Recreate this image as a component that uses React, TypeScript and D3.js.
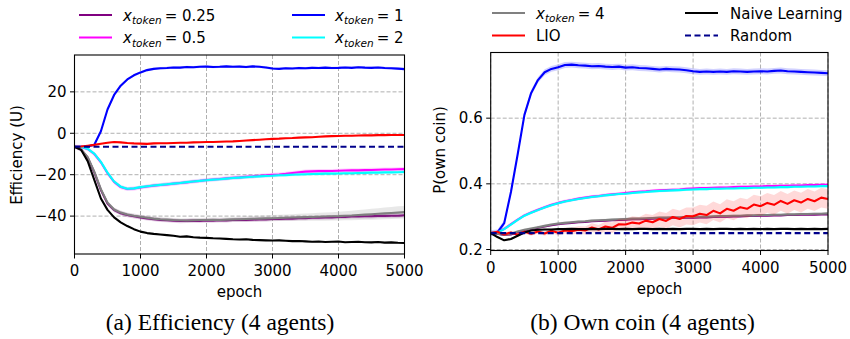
import * as d3 from "d3";

// epochs shared by every curve
const epochs = [
  0, 100, 200, 300, 400, 500, 600, 700, 800, 900,
  1000, 1100, 1200, 1300, 1400, 1500, 1600, 1700, 1800, 1900,
  2000, 2100, 2200, 2300, 2400, 2500, 2600, 2700, 2800, 2900,
  3000, 3100, 3200, 3300, 3400, 3500, 3600, 3700, 3800, 3900,
  4000, 4100, 4200, 4300, 4400, 4500, 4600, 4700, 4800, 4900,
  5000,
];

// (a) Efficiency
const effTok025 = [
  -6.5, -7.9, -11.8, -18.9, -27.4, -33.9, -37.1, -38.6, -39.5, -40.1,
  -40.6, -41.1, -41.5, -41.8, -42.0, -42.2, -42.4, -42.3, -42.2, -42.3,
  -42.1, -42.2, -42.0, -42.1, -41.9, -41.8, -41.8, -41.7, -41.6, -41.6,
  -41.4, -41.4, -41.2, -41.2, -41.0, -41.0, -40.8, -40.8, -40.6, -40.6,
  -40.4, -40.4, -40.2, -40.2, -40.1, -40.1, -39.9, -39.9, -39.8, -39.8,
  -39.6,
];
const effTok05 = [
  -6.5, -6.6, -7.6, -10.0, -14.0, -19.3, -23.5, -26.0, -26.9, -26.7,
  -26.2, -25.7, -25.3, -25.0, -24.7, -24.3, -24.0, -23.7, -23.3, -23.0,
  -22.6, -22.3, -22.1, -21.8, -21.5, -21.3, -21.0, -20.8, -20.5, -20.3,
  -20.1, -19.9, -19.6, -19.2, -18.8, -18.5, -18.4, -18.3, -18.3, -18.2,
  -18.1, -18.0, -17.9, -17.9, -17.8, -17.7, -17.6, -17.5, -17.5, -17.4,
  -17.3,
];
const effTok1 = [
  -6.5, -6.5, -6.4, -5.5, 1.0, 11.5, 18.5, 23.0, 26.0, 28.0,
  29.4, 30.5, 31.1, 31.4, 31.5, 31.8, 31.7, 32.0, 31.9, 32.1,
  32.2, 32.0, 32.1, 32.3, 32.1, 32.2, 32.0, 32.3, 32.1, 31.8,
  31.3, 31.1, 31.4, 31.3, 31.5, 31.4, 31.6, 31.5, 31.7, 31.5,
  31.6, 31.8, 31.6, 31.9, 31.7, 31.6, 31.8, 31.5, 31.4, 31.2,
  31.0,
];
const effTok2 = [
  -6.5, -6.6, -7.5, -9.8, -13.8, -19.0, -23.3, -25.8, -26.8, -26.6,
  -26.0, -25.6, -25.2, -24.9, -24.6, -24.3, -24.0, -23.6, -23.3, -23.0,
  -22.7, -22.4, -22.2, -21.9, -21.6, -21.4, -21.2, -21.0, -20.8, -20.6,
  -20.5, -20.3, -20.2, -20.0, -19.9, -19.8, -19.7, -19.6, -19.5, -19.5,
  -19.4, -19.3, -19.3, -19.2, -19.1, -19.0, -19.0, -18.9, -18.9, -18.8,
  -18.7,
];
const effTok4 = [
  -6.5, -7.8, -11.5, -18.5, -27.0, -33.5, -36.8, -38.3, -39.2, -39.8,
  -40.3, -40.8, -41.2, -41.5, -41.7, -41.9, -42.0, -42.1, -42.0, -41.9,
  -41.9, -41.8, -41.9, -41.7, -41.6, -41.5, -41.4, -41.3, -41.2, -41.1,
  -41.0, -40.9, -40.8, -40.7, -40.6, -40.5, -40.4, -40.3, -40.2, -40.1,
  -40.0, -39.8, -39.7, -39.5, -39.3, -39.1, -38.9, -38.7, -38.5, -38.3,
  -38.1,
];
const effTok4Spread = [
  0.2, 0.3, 0.5, 0.8, 1.0, 1.0, 1.0, 1.0, 1.0, 1.0,
  1.0, 1.0, 1.0, 1.0, 1.0, 1.0, 1.0, 1.0, 1.0, 1.0,
  1.1, 1.1, 1.1, 1.2, 1.2, 1.2, 1.3, 1.3, 1.4, 1.4,
  1.5, 1.5, 1.6, 1.6, 1.7, 1.7, 1.8, 1.9, 2.0, 2.0,
  2.1, 2.2, 2.3, 2.4, 2.5, 2.6, 2.7, 2.8, 2.9, 3.0,
  3.0,
];
const effLIO = [
  -6.5, -6.4, -6.0, -5.6, -5.1, -4.6, -4.2, -4.4, -4.7, -4.9,
  -5.0, -5.1, -4.9, -4.8, -4.8, -4.7, -4.6, -4.6, -4.4, -4.3,
  -4.2, -4.2, -4.1, -4.0, -3.9, -3.7, -3.5, -3.3, -3.1, -2.9,
  -2.7, -2.6, -2.4, -2.3, -2.1, -2.0, -1.9, -1.7, -1.5, -1.4,
  -1.3, -1.2, -1.2, -1.1, -1.0, -1.0, -0.9, -0.9, -0.8, -0.8,
  -0.8,
];
const effNaive = [
  -6.5, -8.0, -13.5, -22.5, -31.5, -37.0, -40.6, -43.0, -44.8, -46.3,
  -47.5, -48.2, -48.6, -48.9, -49.2, -49.5, -50.0, -49.8, -50.2, -50.4,
  -50.5, -50.7, -50.8, -51.0, -51.2, -51.3, -51.2, -51.5, -51.6, -51.7,
  -51.8, -51.7, -51.9, -52.1, -52.0, -52.2, -52.4, -52.3, -52.5, -52.4,
  -52.3, -52.6, -52.5, -52.4, -52.6, -52.7, -52.5, -52.8, -52.7, -52.9,
  -53.0,
];
const effRandom = -6.5;

// (b) Own coin
const ownTok025 = [
  0.25, 0.248, 0.244, 0.246, 0.253, 0.258, 0.262, 0.266, 0.270, 0.274,
  0.277, 0.279, 0.281, 0.283, 0.284, 0.286, 0.287, 0.288, 0.289, 0.290,
  0.291, 0.292, 0.292, 0.293, 0.294, 0.295, 0.295, 0.296, 0.296, 0.297,
  0.297, 0.298, 0.298, 0.299, 0.300, 0.300, 0.301, 0.301, 0.302, 0.302,
  0.303, 0.303, 0.304, 0.304, 0.305, 0.305, 0.306, 0.306, 0.306, 0.307,
  0.307,
];
const ownTok05 = [
  0.25, 0.252, 0.263, 0.277, 0.291, 0.304, 0.313, 0.321, 0.329, 0.336,
  0.342, 0.347, 0.351, 0.355, 0.358, 0.361, 0.363, 0.366, 0.368, 0.370,
  0.372, 0.374, 0.376, 0.377, 0.379, 0.380, 0.381, 0.382, 0.383, 0.385,
  0.386, 0.387, 0.387, 0.388, 0.389, 0.389, 0.390, 0.391, 0.391, 0.392,
  0.392, 0.393, 0.393, 0.394, 0.394, 0.395, 0.395, 0.396, 0.396, 0.397,
  0.397,
];
const ownTok1 = [
  0.25, 0.252, 0.28, 0.375, 0.49, 0.61, 0.677, 0.716, 0.740, 0.750,
  0.755, 0.762, 0.763, 0.761, 0.760, 0.758, 0.759, 0.757, 0.756, 0.757,
  0.754, 0.755, 0.753, 0.752, 0.750, 0.748, 0.750, 0.749, 0.748, 0.746,
  0.743, 0.741, 0.742, 0.741, 0.742, 0.741, 0.743, 0.742, 0.741, 0.742,
  0.743, 0.742, 0.744, 0.745, 0.743, 0.742, 0.741, 0.740, 0.739, 0.738,
  0.737,
];
const ownTok2 = [
  0.25, 0.252, 0.262, 0.276, 0.290, 0.303, 0.312, 0.320, 0.328, 0.335,
  0.341, 0.346, 0.350, 0.354, 0.357, 0.360, 0.362, 0.365, 0.367, 0.369,
  0.370, 0.372, 0.374, 0.375, 0.377, 0.378, 0.379, 0.380, 0.381, 0.382,
  0.383, 0.384, 0.384, 0.385, 0.385, 0.386, 0.386, 0.387, 0.387, 0.388,
  0.388, 0.389, 0.389, 0.390, 0.390, 0.391, 0.391, 0.392, 0.392, 0.393,
  0.393,
];
const ownTok4 = [
  0.25, 0.248, 0.245, 0.248, 0.255, 0.260, 0.264, 0.268, 0.272, 0.276,
  0.279, 0.281, 0.283, 0.285, 0.286, 0.288, 0.289, 0.290, 0.291, 0.292,
  0.293, 0.294, 0.294, 0.295, 0.296, 0.297, 0.297, 0.298, 0.298, 0.299,
  0.299, 0.300, 0.300, 0.301, 0.302, 0.302, 0.303, 0.303, 0.304, 0.304,
  0.305, 0.305, 0.306, 0.306, 0.307, 0.307, 0.308, 0.308, 0.309, 0.309,
  0.310,
];
const ownLIO = [
  0.25, 0.254, 0.246, 0.252, 0.245, 0.254, 0.248, 0.255, 0.249, 0.257,
  0.251, 0.258, 0.256, 0.260, 0.258, 0.267, 0.261, 0.270, 0.266, 0.277,
  0.276, 0.282, 0.279, 0.288, 0.283, 0.293, 0.287, 0.299, 0.293, 0.302,
  0.301, 0.309, 0.305, 0.318, 0.310, 0.324, 0.318, 0.329, 0.324, 0.337,
  0.332, 0.342, 0.336, 0.348, 0.339, 0.350, 0.343, 0.354, 0.347, 0.358,
  0.354,
];
const ownLIOSpread = [
  0.003, 0.004, 0.004, 0.005, 0.005, 0.005, 0.006, 0.006, 0.007, 0.007,
  0.008, 0.009, 0.010, 0.011, 0.012, 0.013, 0.014, 0.015, 0.016, 0.017,
  0.018, 0.019, 0.020, 0.021, 0.022, 0.023, 0.024, 0.025, 0.026, 0.026,
  0.027, 0.027, 0.028, 0.028, 0.028, 0.029, 0.029, 0.029, 0.029, 0.030,
  0.030, 0.030, 0.030, 0.030, 0.030, 0.030, 0.030, 0.030, 0.030, 0.030,
  0.030,
];
const ownNaive = [
  0.25, 0.238, 0.228, 0.232, 0.242, 0.252, 0.258, 0.260, 0.261, 0.261,
  0.262, 0.262, 0.263, 0.262, 0.262, 0.263, 0.262, 0.263, 0.263, 0.262,
  0.263, 0.262, 0.263, 0.263, 0.262, 0.263, 0.262, 0.263, 0.262, 0.263,
  0.263, 0.262, 0.263, 0.262, 0.263, 0.263, 0.262, 0.263, 0.262, 0.263,
  0.262, 0.263, 0.262, 0.263, 0.263, 0.262, 0.263, 0.262, 0.263, 0.262,
  0.263,
];
const ownRandom = 0.25;

const xTicks = [0, 1000, 2000, 3000, 4000, 5000];
const effTicks = [-40, -20, 0, 20];
const ownTicks = [0.2, 0.4, 0.6];

type Series = {
  values: number[];
  color: string;
  spread: number | number[];
  bandOpacity?: number;
};

const FONT = "DejaVu Sans, sans-serif";

function Panel({
  id, series, randomLevel, x0, x1, y0, y1, yDomain, yTicks, fmt,
}: {
  id: string; series: Series[]; randomLevel: number;
  x0: number; x1: number; y0: number; y1: number;
  yDomain: [number, number]; yTicks: number[]; fmt: (v: number) => string;
}) {
  const x = d3.scaleLinear().domain([0, 5000]).range([x0, x1]);
  const y = d3.scaleLinear().domain(yDomain).range([y1, y0]);
  const line = d3.line<number>().x((_, i) => x(epochs[i])).y((d) => y(d));
  const sp = (s: Series, i: number) => (Array.isArray(s.spread) ? s.spread[i] : s.spread);
  return (
    <g>
      <defs>
        <clipPath id={id}>
          <rect x={x0} y={y0} width={x1 - x0} height={y1 - y0} />
        </clipPath>
      </defs>
      {xTicks.map((t) => (
        <line key={"gx" + t} x1={x(t)} x2={x(t)} y1={y0} y2={y1} stroke="#b0b0b0" strokeWidth={1} strokeDasharray="4,2" />
      ))}
      {yTicks.map((t) => (
        <line key={"gy" + t} x1={x0} x2={x1} y1={y(t)} y2={y(t)} stroke="#b0b0b0" strokeWidth={1} strokeDasharray="4,2" />
      ))}
      <g clipPath={`url(#${id})`}>
        {series.map((s, k) => {
          const area = d3.area<number>()
            .x((_, i) => x(epochs[i]))
            .y0((d, i) => y(d - sp(s, i)))
            .y1((d, i) => y(d + sp(s, i)));
          return (
            <g key={k}>
              <path d={area(s.values) || ""} fill={s.color} fillOpacity={s.bandOpacity ?? 0.18} stroke="none" />
              <path d={line(s.values) || ""} fill="none" stroke={s.color} strokeWidth={2.1} strokeLinejoin="round" />
            </g>
          );
        })}
        <line x1={x0} x2={x1} y1={y(randomLevel)} y2={y(randomLevel)} stroke="#00008b" strokeWidth={2.2} strokeDasharray="6,3.5" />
      </g>
      <rect x={x0} y={y0} width={x1 - x0} height={y1 - y0} fill="none" stroke="#000" strokeWidth={1.1} />
      {xTicks.map((t) => (
        <g key={"tx" + t}>
          <line x1={x(t)} x2={x(t)} y1={y1} y2={y1 + 4.5} stroke="#000" strokeWidth={1} />
          <text x={x(t)} y={y1 + 22} textAnchor="middle" fontFamily={FONT} fontSize={15}>{t}</text>
        </g>
      ))}
      {yTicks.map((t) => (
        <g key={"ty" + t}>
          <line x1={x0 - 4.5} x2={x0} y1={y(t)} y2={y(t)} stroke="#000" strokeWidth={1} />
          <text x={x0 - 8} y={y(t)} dy="0.35em" textAnchor="end" fontFamily={FONT} fontSize={15}>{fmt(t)}</text>
        </g>
      ))}
    </g>
  );
}

function TokenLabel({ x, y, value }: { x: number; y: number; value: string }) {
  return (
    <text x={x} y={y} fontFamily={FONT} fontSize={15}>
      <tspan fontStyle="italic">x</tspan>
      <tspan fontStyle="italic" fontSize={10.5} dy={3.5}>token</tspan>
      <tspan dy={-3.5}>{"\u2009= "}{value}</tspan>
    </text>
  );
}

function LegendRow({ x, y, color, dashed, children }: { x: number; y: number; color: string; dashed?: boolean; children: any }) {
  return (
    <g>
      <line x1={x} x2={x + 33} y1={y} y2={y} stroke={color} strokeWidth={2.2} strokeDasharray={dashed ? "6,3.5" : undefined} />
      {children}
    </g>
  );
}

export default function App() {
  const C = { p: "#800080", m: "#ff00ff", b: "#0000ff", c: "#00ffff", g: "#808080", r: "#ff0000", k: "#000000", n: "#00008b" };
  const effSeries: Series[] = [
    { values: effTok025, color: C.p, spread: 1.0 },
    { values: effTok05, color: C.m, spread: 1.0 },
    { values: effTok1, color: C.b, spread: 0.6 },
    { values: effTok2, color: C.c, spread: 0.8 },
    { values: effTok4, color: C.g, spread: effTok4Spread },
    { values: effLIO, color: C.r, spread: 0.3 },
    { values: effNaive, color: C.k, spread: 0.3 },
  ];
  const ownSeries: Series[] = [
    { values: ownTok025, color: C.p, spread: 0.003 },
    { values: ownTok05, color: C.m, spread: 0.005 },
    { values: ownTok1, color: C.b, spread: 0.009 },
    { values: ownTok2, color: C.c, spread: 0.004 },
    { values: ownTok4, color: C.g, spread: 0.004 },
    { values: ownLIO, color: C.r, spread: ownLIOSpread, bandOpacity: 0.15 },
    { values: ownNaive, color: C.k, spread: 0.002 },
  ];
  const fmtEff = (v: number) => (v < 0 ? "\u2212" + Math.abs(v) : String(v));
  const fmtOwn = (v: number) => v.toFixed(1);
  return (
    <svg width={850} height={339} style={{ position: "absolute", left: 0, top: 0, background: "#fff" }}>
      <rect width={850} height={339} fill="#fff" />
      {/* legends */}
      <LegendRow x={79} y={15} color={C.p}><TokenLabel x={123} y={20.5} value="0.25" /></LegendRow>
      <LegendRow x={79} y={37.5} color={C.m}><TokenLabel x={123} y={43} value="0.5" /></LegendRow>
      <LegendRow x={292} y={15} color={C.b}><TokenLabel x={335} y={20.5} value="1" /></LegendRow>
      <LegendRow x={292} y={37.5} color={C.c}><TokenLabel x={335} y={43} value="2" /></LegendRow>

      <LegendRow x={492} y={13} color={C.g}><TokenLabel x={536} y={18.5} value="4" /></LegendRow>
      <LegendRow x={492} y={35.5} color={C.r}>
        <text x={536} y={41} fontFamily={FONT} fontSize={15}>LIO</text>
      </LegendRow>
      <LegendRow x={685} y={13} color={C.k}>
        <text x={730} y={18.5} fontFamily={FONT} fontSize={15}>Naive Learning</text>
      </LegendRow>
      <LegendRow x={685} y={35.5} color={C.n} dashed>
        <text x={730} y={41} fontFamily={FONT} fontSize={15}>Random</text>
      </LegendRow>

      <Panel id="clipA" series={effSeries} randomLevel={effRandom}
        x0={74.5} x1={404.5} y0={55} y1={254} yDomain={[-58.3, 37.8]} yTicks={effTicks} fmt={fmtEff} />
      <Panel id="clipB" series={ownSeries} randomLevel={ownRandom}
        x0={490.7} x1={828} y0={52.5} y1={250.5} yDomain={[0.197, 0.8]} yTicks={ownTicks} fmt={fmtOwn} />

      <text transform="translate(22,155) rotate(-90)" textAnchor="middle" fontFamily={FONT} fontSize={15}>Efficiency (U)</text>
      <text transform="translate(445,150) rotate(-90)" textAnchor="middle" fontFamily={FONT} fontSize={15}>P(own coin)</text>
      <text x={239.5} y={297} textAnchor="middle" fontFamily={FONT} fontSize={15}>epoch</text>
      <text x={659.5} y={294} textAnchor="middle" fontFamily={FONT} fontSize={15}>epoch</text>

      <text x={220} y={330} textAnchor="middle" fontFamily="Liberation Serif, Times New Roman, serif" fontSize={23.5}>(a) Efficiency (4 agents)</text>
      <text x={642.5} y={330} textAnchor="middle" fontFamily="Liberation Serif, Times New Roman, serif" fontSize={23.5}>(b) Own coin (4 agents)</text>
    </svg>
  );
}
